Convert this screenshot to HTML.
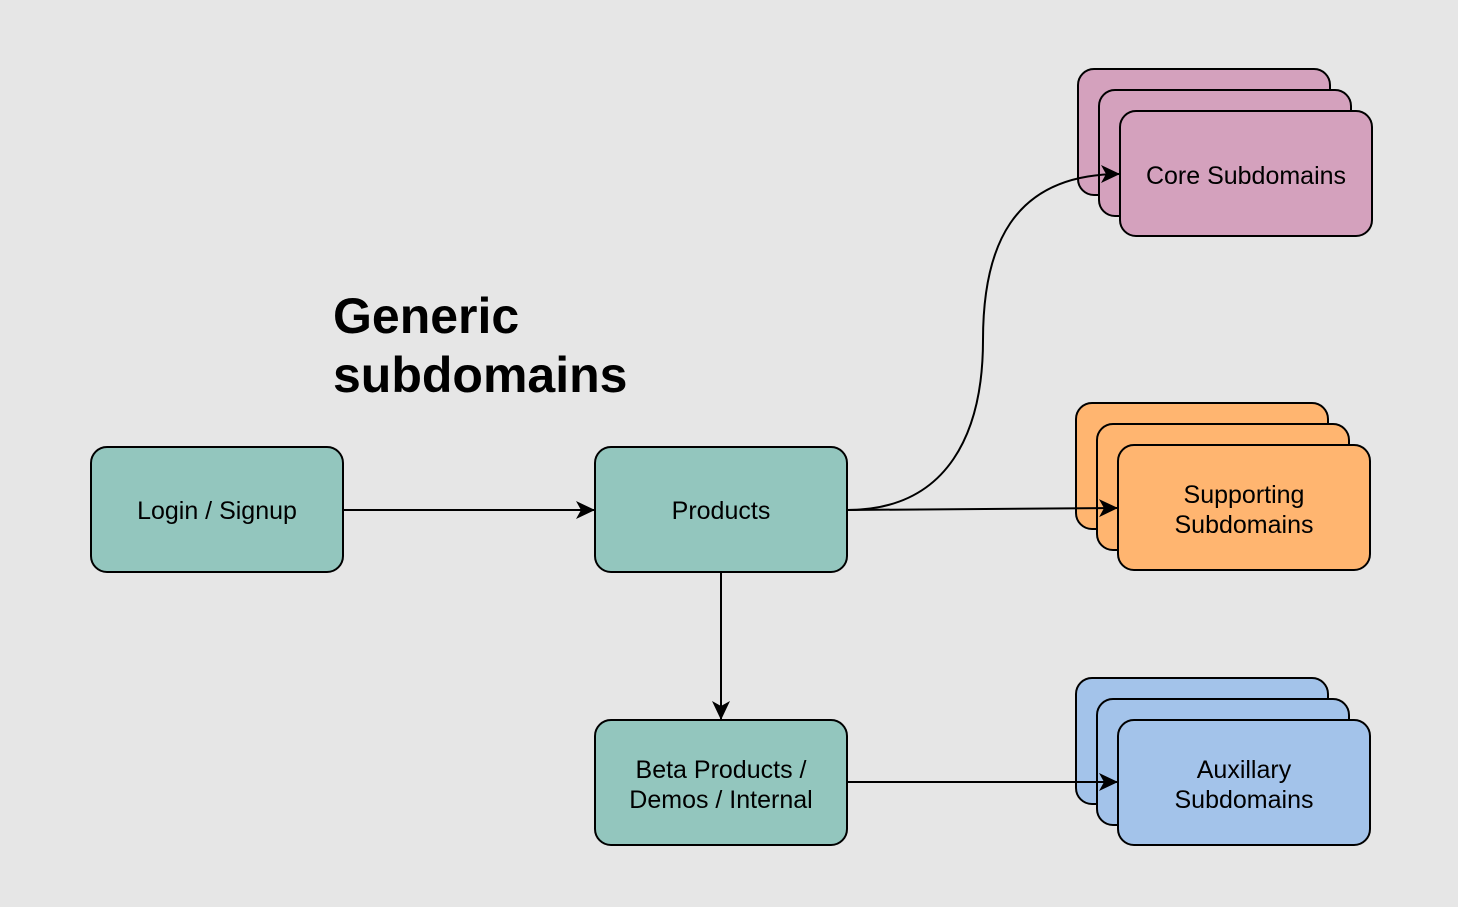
<!DOCTYPE html>
<html><head><meta charset="utf-8"><style>
html,body{margin:0;padding:0;background:#e6e6e6;}
svg{display:block;}
text{font-family:"Liberation Sans",sans-serif;}
</style></head><body>
<svg width="1458" height="907" viewBox="0 0 1458 907" xmlns="http://www.w3.org/2000/svg">
<defs>
<marker id="ar" markerWidth="22" markerHeight="22" refX="20" refY="11" orient="auto" markerUnits="userSpaceOnUse">
<path d="M1,2 L20,11 L1,20 L6,11 Z" fill="#000"/>
</marker>
</defs>
<rect width="1458" height="907" fill="#e6e6e6"/>
<g stroke="#000" stroke-width="2">
<rect x="91" y="447" width="252" height="125" rx="16" fill="#93c6be"/>
<rect x="595" y="447" width="252" height="125" rx="16" fill="#93c6be"/>
<rect x="595" y="720" width="252" height="125" rx="16" fill="#93c6be"/>

<rect x="1078" y="69" width="252" height="126" rx="16" fill="#d4a1bd"/>
<rect x="1099" y="90" width="252" height="126" rx="16" fill="#d4a1bd"/>
<rect x="1120" y="111" width="252" height="125" rx="16" fill="#d4a1bd"/>

<rect x="1076" y="403" width="252" height="126" rx="16" fill="#ffb570"/>
<rect x="1097" y="424" width="252" height="126" rx="16" fill="#ffb570"/>
<rect x="1118" y="445" width="252" height="125" rx="16" fill="#ffb570"/>

<rect x="1076" y="678" width="252" height="126" rx="16" fill="#a3c3ea"/>
<rect x="1097" y="699" width="252" height="126" rx="16" fill="#a3c3ea"/>
<rect x="1118" y="720" width="252" height="125" rx="16" fill="#a3c3ea"/>
</g>
<g stroke="#000" stroke-width="2" fill="none">
<path d="M343 510 L595 510" marker-end="url(#ar)"/>
<path d="M721 572 L721 720" marker-end="url(#ar)"/>
<path d="M847 782 L1118 782" marker-end="url(#ar)"/>
<path d="M847 510 L1118 508" marker-end="url(#ar)"/>
<path d="M847 510 C950 510 983 430 983 340 C983 250 1010 174 1120 174" marker-end="url(#ar)"/>
</g>
<g font-size="25" text-anchor="middle" fill="#000">
<text x="217" y="519">Login / Signup</text>
<text x="721" y="519">Products</text>
<text x="721" y="778">Beta Products /</text>
<text x="721" y="808">Demos / Internal</text>
<text x="1246" y="184">Core Subdomains</text>
<text x="1244" y="503">Supporting</text>
<text x="1244" y="533">Subdomains</text>
<text x="1244" y="778">Auxillary</text>
<text x="1244" y="808">Subdomains</text>
</g>
<text x="333" y="333" font-size="50" font-weight="bold">Generic</text>
<text x="333" y="392" font-size="50" font-weight="bold">subdomains</text>
</svg>
</body></html>
